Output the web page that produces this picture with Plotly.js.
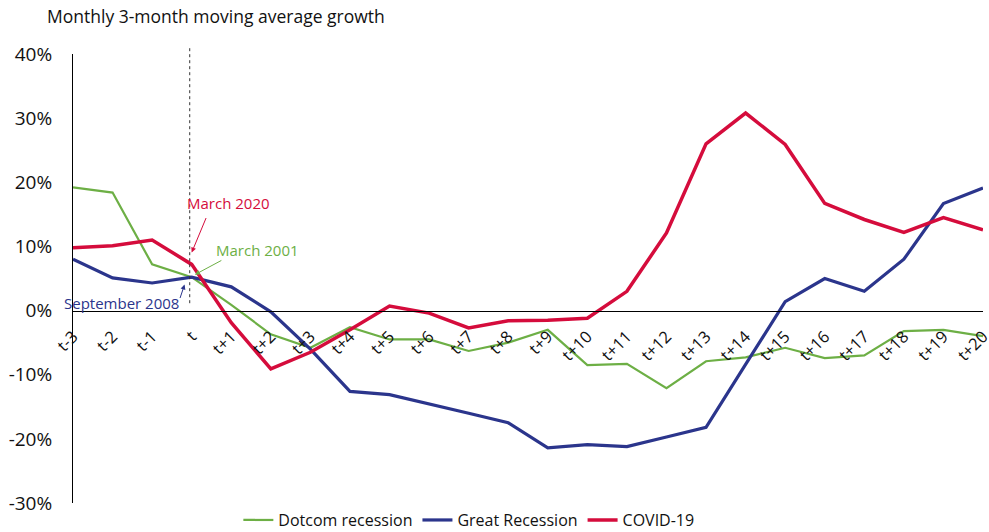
<!DOCTYPE html>
<html>
<head>
<meta charset="utf-8">
<script src="https://cdn.plot.ly/plotly-3.0.1.min.js"></script>
<style>html,body{margin:0;padding:0;background:#fff;}#chart{width:989px;height:532px;}</style>
</head>
<body>
<div id="chart"></div>
<script>
const categories = ['t-3','t-2','t-1','t','t+1','t+2','t+3','t+4','t+5','t+6','t+7','t+8','t+9','t+10','t+11','t+12','t+13','t+14','t+15','t+16','t+17','t+18','t+19','t+20'];
const dotcom = [19.2, 18.4, 7.2, 5.2, 0.9, -3.7, -5.8, -2.6, -4.5, -4.5, -6.3, -5.0, -3.0, -8.5, -8.3, -12.1, -7.9, -7.3, -5.8, -7.4, -7.0, -3.2, -3.0, -4.0];
const greatRecession = [8.0, 5.1, 4.3, 5.2, 3.7, -0.2, -6.0, -12.6, -13.1, -14.5, -16.0, -17.5, -21.4, -20.9, -21.2, -19.7, -18.2, -8.4, 1.4, 5.0, 3.0, 8.0, 16.7, 19.1];
const covid = [9.8, 10.1, 11.0, 7.2, -1.9, -9.1, -6.5, -3.0, 0.7, -0.4, -2.7, -1.6, -1.5, -1.2, 3.0, 12.1, 26.0, 30.8, 25.9, 16.7, 14.2, 12.2, 14.5, 12.6];
const seriesNames = ['Dotcom recession', 'Great Recession', 'COVID-19'];
const yTickValues = [-30, -20, -10, 0, 10, 20, 30, 40];
const yTickLabels = ['-30%', '-20%', '-10%', '0%', '10%', '20%', '30%', '40%'];

const GREEN = '#6DAF45', BLUE = '#2B358C', RED = '#D50C3C';
const FONT = 'Open Sans, sans-serif';

const traces = [
  {x: categories, y: dotcom, name: seriesNames[0], type: 'scatter', mode: 'lines', line: {color: GREEN, width: 2.2}},
  {x: categories, y: greatRecession, name: seriesNames[1], type: 'scatter', mode: 'lines', line: {color: BLUE, width: 3.2}},
  {x: categories, y: covid, name: seriesNames[2], type: 'scatter', mode: 'lines', line: {color: RED, width: 3.5}}
];

const layout = {
  width: 989, height: 532,
  margin: {l: 73, r: 6, t: 54, b: 29, autoexpand: false},
  paper_bgcolor: '#fff', plot_bgcolor: '#fff',
  font: {family: FONT, color: '#111', size: 16},
  showlegend: true,
  legend: {orientation: 'h', x: 0.435, xanchor: 'center', y: -0.038, yanchor: 'middle',
           font: {size: 16, color: '#111'}, itemwidth: 30, traceorder: 'normal'},
  xaxis: {type: 'category', range: [0, 23], anchor: 'free', position: 30/70,
          showline: true, linecolor: '#000', linewidth: 1, showgrid: false, zeroline: false,
          ticks: '', tickangle: -45, tickfont: {size: 16.5, color: '#111'}, ticklabelstandoff: 9},
  yaxis: {range: [-30, 40], tickvals: yTickValues, ticktext: yTickLabels, showline: true, linecolor: '#000', linewidth: 1,
          showgrid: false, zeroline: false, ticks: '', tickfont: {size: 19, color: '#111'}, ticklabelstandoff: 16},
  title: {text: 'Monthly 3-month moving average growth', x: 47/989, xanchor: 'left', y: 1 - 17/532, yanchor: 'middle',
          font: {size: 17.5, color: '#111', family: FONT}},
  shapes: [
    {type: 'line', xref: 'x', yref: 'paper', x0: 2.95, x1: 2.95, y0: 0.445, y1: 1.0156,
     line: {color: '#333', width: 1, dash: 'dot'}}
  ],
  annotations: [
    {x: 3, y: 9.05, xref: 'x', yref: 'y', ax: 15, ay: -36, text: '', showarrow: true, arrowhead: 2, arrowsize: 1, arrowwidth: 1, arrowcolor: RED},
    {x: 3.93, y: 16.7, xref: 'x', yref: 'y', text: 'March 2020', showarrow: false, font: {size: 15, color: RED}},
    {x: 3.08, y: 5.6, xref: 'x', yref: 'y', ax: 28, ay: -15, text: '', showarrow: true, arrowhead: 2, arrowsize: 1, arrowwidth: 1, arrowcolor: GREEN},
    {x: 4.66, y: 9.5, xref: 'x', yref: 'y', text: 'March 2001', showarrow: false, font: {size: 15, color: GREEN}},
    {x: 2.82, y: 4.06, xref: 'x', yref: 'y', ax: -5, ay: 15, text: '', showarrow: true, arrowhead: 2, arrowsize: 1, arrowwidth: 1, arrowcolor: BLUE},
    {x: 1.235, y: 1.25, xref: 'x', yref: 'y', text: 'September 2008', showarrow: false, font: {size: 15, color: BLUE}}
  ]
};

Plotly.newPlot('chart', traces, layout, {displayModeBar: false, staticPlot: true});
</script>
</body>
</html>
